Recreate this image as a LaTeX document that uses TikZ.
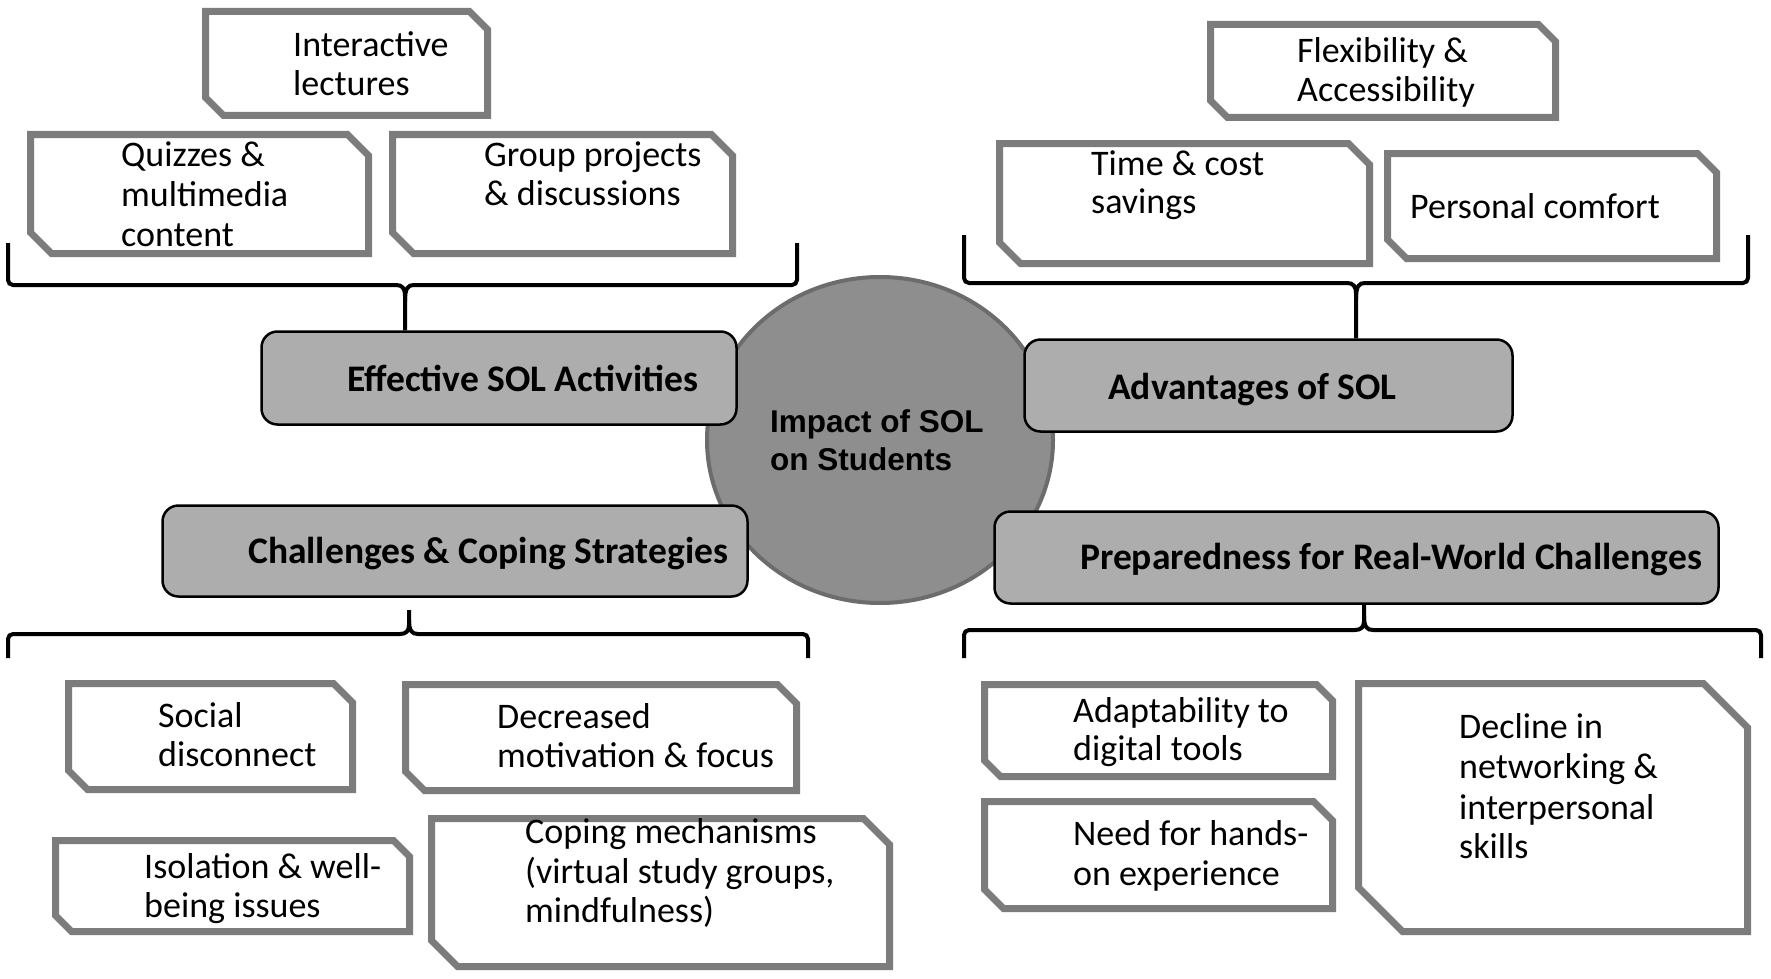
\documentclass[tikz,border=0pt]{standalone}
\usepackage{fontspec}
\setmainfont{Carlito}
\newfontfamily\arialfont{Liberation Sans}
\usetikzlibrary{calc,shapes.geometric}
\definecolor{snipgray}{HTML}{7C7C7C}
\definecolor{boxfill}{HTML}{ADADAD}
\definecolor{hubfill}{HTML}{8E8E8E}
\definecolor{hubdraw}{HTML}{6C6C6C}
\tikzset{
  snipnode/.style={rectangle,inner sep=0pt,outer sep=0pt},
  snipline/.style={draw=snipgray,line width=7pt,fill=white,line join=miter},
  rbox/.style={rectangle,rounded corners=16pt,draw=black,line width=2.5pt,fill=boxfill,inner sep=0pt},
  hub/.style={ellipse,draw=hubdraw,line width=4pt,fill=hubfill,inner sep=0pt},
  txt/.style={anchor=base west,inner sep=0pt,font=\fontsize{36}{41}\selectfont},
  btxt/.style={anchor=base west,inner sep=0pt,font=\fontsize{37.5}{43}\selectfont\bfseries},
  htxt/.style={anchor=base west,inner sep=0pt,font=\fontsize{31.5}{38}\selectfont\arialfont\bfseries},
  brace/.style={draw=black,line width=4pt,rounded corners=5pt},
}
% name, x1, y1, x2, y2 (outer extents), chamfer
\newcommand\snipbox[6]{%
  \node[snipnode,minimum width={#4-#2-7},minimum height={#5-#3-7}] (#1) at ({(#2+#4)/2},{(#3+#5)/2}) {};
  \draw[snipline] (#1.north west) -- ($(#1.north east)+(-#6,0)$) -- ($(#1.north east)+(0,#6)$)
    -- (#1.south east) -- ($(#1.south west)+(#6,0)$) -- ($(#1.south west)+(0,-#6)$) -- cycle;
}
\newcommand\tline[4]{\node[txt] (#1) at (#2,#3) {#4};}
\begin{document}
\begin{tikzpicture}[x=1pt,y=-1pt]
\useasboundingbox[fill=white] (0,0) rectangle (1771,979);

% central hub
\node[hub,minimum width=346,minimum height=326] (H) at (880,440) {};

% group boxes
\node[rbox,minimum width=475,minimum height=93] (E) at (499,378) {};
\node[rbox,minimum width=488,minimum height=92] (A) at (1268.5,385.5) {};
\node[rbox,minimum width=585,minimum height=91] (C) at (455,551) {};
\node[rbox,minimum width=724,minimum height=92] (P) at (1356.5,557.5) {};

\node[htxt] (Ht1) at (770,432) {Impact of SOL};
\node[htxt] (Ht2) at (770,470) {on Students};
\node[btxt] (Et) at (347,391) {Effective SOL Activities};
\node[btxt] (At) at (1108,399) {Advantages of SOL};
\node[btxt] (Ct) at (248,563) {Challenges \& Coping Strategies};
\node[btxt] (Pt) at (1080,569) {Preparedness for Real-World Challenges};

% leaf boxes
\snipbox{s1}{202}{8}{491}{119}{18}
\snipbox{s2}{27}{131}{372}{257}{21}
\snipbox{s3}{389}{131}{736}{257}{21}
\snipbox{s4}{1207}{21}{1559}{121}{17}
\snipbox{s5}{996}{140}{1373}{267}{21}
\snipbox{s6}{1384}{150}{1720}{262}{19}
\snipbox{s7}{65}{680}{356}{793}{19}
\snipbox{s8}{402}{681}{800}{794}{19}
\snipbox{s9}{52}{837}{413}{935}{16}
\snipbox{s10}{428}{815}{893}{970}{26}
\snipbox{s11}{981}{681}{1336}{780}{16}
\snipbox{s12}{981}{798}{1336}{912}{19}
\snipbox{s13}{1355}{680}{1751}{935}{44}

% leaf texts
\tline{s1a}{293}{57}{Interactive}
\tline{s1b}{293}{96}{lectures}
\tline{s2a}{121}{166}{Quizzes \&}
\tline{s2b}{121}{206}{multimedia}
\tline{s2c}{121}{246}{content}
\tline{s3a}{484}{166}{Group projects}
\tline{s3b}{484}{205}{\& discussions}
\tline{s4a}{1297}{63}{Flexibility \&}
\tline{s4b}{1297}{102}{Accessibility}
\tline{s5a}{1091}{175}{Time \& cost}
\tline{s5b}{1091}{213}{savings}
\tline{s6a}{1410}{218}{Personal comfort}
\tline{s7a}{158}{727}{Social}
\tline{s7b}{158}{766}{disconnect}
\tline{s8a}{497}{728}{Decreased}
\tline{s8b}{497}{767}{motivation \& focus}
\tline{s9a}{144}{878}{Isolation \& well-}
\tline{s9b}{144}{917}{being issues}
\tline{s10a}{525}{843}{Coping mechanisms}
\tline{s10b}{525}{883}{(virtual study groups,}
\tline{s10c}{525}{922}{mindfulness)}
\tline{s11a}{1073}{722}{Adaptability to}
\tline{s11b}{1073}{760}{digital tools}
\tline{s12a}{1073}{845}{Need for hands-}
\tline{s12b}{1073}{885}{on experience}
\tline{s13a}{1459}{738}{Decline in}
\tline{s13b}{1459}{778}{networking \&}
\tline{s13c}{1459}{819}{interpersonal}
\tline{s13d}{1459}{858}{skills}

% brackets: end points and junctions
\coordinate (b1l) at (8,243);   \coordinate (b1r) at (797,243);  \coordinate (b1j) at (405,285);
\coordinate (b2l) at (964,235); \coordinate (b2r) at (1748,235); \coordinate (b2j) at (1356,283);
\coordinate (b3l) at (8,658);   \coordinate (b3r) at (808,658);  \coordinate (b3j) at (409,634);
\coordinate (b4l) at (964,658); \coordinate (b4r) at (1761,658); \coordinate (b4j) at (1364,630);
\coordinate (b3t) at (409,610);

% top brackets (stem down to parent)
\draw[brace] (b1l) -- (b1l |- b1j) -- ($(b1j)+(-14,0)$) .. controls ($(b1j)+(-3,0)$) and ($(b1j)+(0,3)$) .. ($(b1j)+(0,16)$) -- (E.north -| b1j);
\draw[brace] (b1r) -- (b1r |- b1j) -- ($(b1j)+(14,0)$) .. controls ($(b1j)+(3,0)$) and ($(b1j)+(0,3)$) .. ($(b1j)+(0,16)$);
\draw[brace] (b2l) -- (b2l |- b2j) -- ($(b2j)+(-14,0)$) .. controls ($(b2j)+(-3,0)$) and ($(b2j)+(0,3)$) .. ($(b2j)+(0,16)$) -- (A.north -| b2j);
\draw[brace] (b2r) -- (b2r |- b2j) -- ($(b2j)+(14,0)$) .. controls ($(b2j)+(3,0)$) and ($(b2j)+(0,3)$) .. ($(b2j)+(0,16)$);

% bottom brackets (stem up to parent)
\draw[brace] (b3l) -- (b3l |- b3j) -- ($(b3j)+(-14,0)$) .. controls ($(b3j)+(-3,0)$) and ($(b3j)+(0,-3)$) .. ($(b3j)+(0,-14)$) -- (b3t);
\draw[brace] (b3r) -- (b3r |- b3j) -- ($(b3j)+(14,0)$) .. controls ($(b3j)+(3,0)$) and ($(b3j)+(0,-3)$) .. ($(b3j)+(0,-14)$);
\draw[brace] (b4l) -- (b4l |- b4j) -- ($(b4j)+(-14,0)$) .. controls ($(b4j)+(-3,0)$) and ($(b4j)+(0,-3)$) .. ($(b4j)+(0,-14)$) -- (P.south -| b4j);
\draw[brace] (b4r) -- (b4r |- b4j) -- ($(b4j)+(14,0)$) .. controls ($(b4j)+(3,0)$) and ($(b4j)+(0,-3)$) .. ($(b4j)+(0,-14)$);
\end{tikzpicture}
\end{document}
